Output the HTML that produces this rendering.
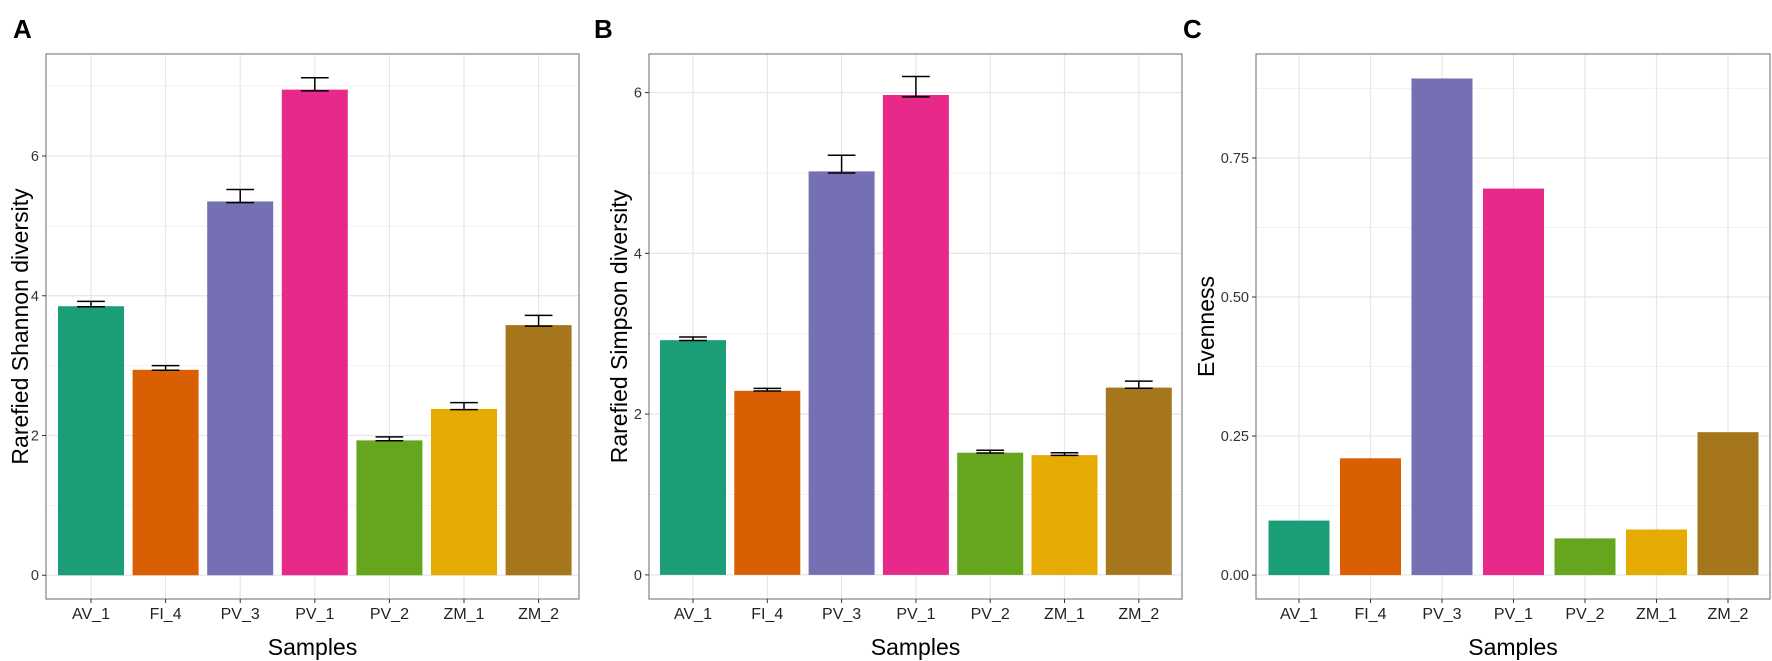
<!DOCTYPE html>
<html><head><meta charset="utf-8"><style>
html,body{margin:0;padding:0;background:#fff;}
svg{display:block;font-family:"Liberation Sans",Arial,sans-serif;}
</style></head><body>
<svg id="fig" width="1772" height="661" viewBox="0 0 1772 661"></svg>
<script>
const categories = ["AV_1","FI_4","PV_3","PV_1","PV_2","ZM_1","ZM_2"];
const colors = ["#1b9e77","#d95f02","#7570b3","#e7298a","#66a61e","#e6ab02","#a6761d"];
const shannonValues = [3.85,2.94,5.35,6.95,1.93,2.38,3.58];
const shannonErrTop = [3.92,3.00,5.52,7.12,1.98,2.47,3.72];
const simpsonValues = [2.92,2.29,5.02,5.97,1.52,1.49,2.33];
const simpsonErrTop = [2.96,2.32,5.22,6.20,1.55,1.52,2.41];
const evennessValues = [0.098,0.21,0.893,0.695,0.066,0.082,0.257];
const shannonTicks = [0,2,4,6];
const simpsonTicks = [0,2,4,6];
const evennessTicks = [0,0.25,0.5,0.75];
const evennessTickLabels = ["0.00","0.25","0.50","0.75"];

const NS="http://www.w3.org/2000/svg";
const svg=document.getElementById('fig');
function mk(tag,attrs,parent){const e=document.createElementNS(NS,tag);for(const k in attrs)e.setAttribute(k,attrs[k]);(parent||svg).appendChild(e);return e;}

const panels=[
 {key:"a",letter:"A",lx:13,left:46,right:579,ymin:-0.34,ymax:7.46,ticks:shannonTicks,tickLabels:shannonTicks.map(String),minor:[1,3,5,7],vals:shannonValues,err:shannonErrTop,title:"Rarefied Shannon diversity",titleX:22,c0:91,step:74.6,bw:66},
 {key:"b",letter:"B",lx:594,left:649,right:1182,ymin:-0.3,ymax:6.48,ticks:simpsonTicks,tickLabels:simpsonTicks.map(String),minor:[1,3,5],vals:simpsonValues,err:simpsonErrTop,title:"Rarefied Simpson diversity",titleX:621,c0:693,step:74.3,bw:66},
 {key:"c",letter:"C",lx:1183,left:1256,right:1770,ymin:-0.043,ymax:0.937,ticks:evennessTicks,tickLabels:evennessTickLabels,minor:[0.125,0.375,0.625,0.875],vals:evennessValues,err:null,title:"Evenness",titleX:1208,c0:1299,step:71.5,bw:61}
];
const TOP=54,BOT=599;

panels.forEach(p=>{
  const g=mk('g',{});
  
  
  const y=v=>BOT-(v-p.ymin)/(p.ymax-p.ymin)*(BOT-TOP);
  const x=i=>p.c0+i*p.step;
  const lt=mk('text',{x:p.lx,y:38,'font-size':26,'font-weight':'bold',fill:'#000'},g);
  lt.textContent=p.letter;
  
  
  mk('rect',{x:p.left,y:TOP,width:p.right-p.left,height:BOT-TOP,fill:'#fff'},g);
  p.minor.forEach(v=>{ if(v<p.ymax) mk('line',{x1:p.left,x2:p.right,y1:y(v),y2:y(v),stroke:'#f2f2f2','stroke-width':1},g);});
  p.ticks.forEach(v=>mk('line',{x1:p.left,x2:p.right,y1:y(v),y2:y(v),stroke:'#e6e6e6','stroke-width':1.2},g));
  categories.forEach((c,i)=>mk('line',{x1:x(i),x2:x(i),y1:TOP,y2:BOT,stroke:'#e6e6e6','stroke-width':1.2},g));
  p.vals.forEach((v,i)=>{
    const r=mk('rect',{x:x(i)-p.bw/2,y:y(v),width:p.bw,height:y(0)-y(v),fill:colors[i]},g);
    
    
    if(p.err){
      const t=p.err[i], lo=v-(t-v)*0.1, cw=p.bw*0.42;
      const eg=mk('g',{stroke:'#000','stroke-width':1.5,fill:'none'},g);
      
      
      mk('line',{x1:x(i),x2:x(i),y1:y(lo),y2:y(t)},eg);
      mk('line',{x1:x(i)-cw/2,x2:x(i)+cw/2,y1:y(t),y2:y(t)},eg);
      mk('line',{x1:x(i)-cw/2,x2:x(i)+cw/2,y1:y(lo),y2:y(lo)},eg);
    }
  });
  const border=mk('rect',{x:p.left,y:TOP,width:p.right-p.left,height:BOT-TOP,fill:'none',stroke:'#8c8c8c','stroke-width':1.3},g);
  
  
  p.ticks.forEach((v,i)=>{
    mk('line',{x1:p.left-4,x2:p.left,y1:y(v),y2:y(v),stroke:'#333','stroke-width':1},g);
    const t=mk('text',{x:p.left-7,y:y(v)+5,'font-size':14.5,'text-anchor':'end',fill:'#333'},g);
    t.textContent=p.tickLabels[i];
    
    
  });
  categories.forEach((c,i)=>{
    mk('line',{x1:x(i),x2:x(i),y1:BOT,y2:BOT+4,stroke:'#333','stroke-width':1},g);
    const t=mk('text',{x:x(i),y:619,'font-size':16,'text-anchor':'middle',fill:'#222'},g);
    t.textContent=c;
    
    
  });
  const xt=mk('text',{x:(p.left+p.right)/2,y:655,'font-size':23,'text-anchor':'middle',fill:'#000'},g);
  xt.textContent="Samples";
  
  
  const cy=(TOP+BOT)/2;
  const yt=mk('text',{x:p.titleX,y:cy,'font-size':23,'text-anchor':'middle',fill:'#000',transform:`rotate(-90 ${p.titleX} ${cy})`,'dominant-baseline':'middle'},g);
  yt.textContent=p.title;
  
  
});
</script>
</body></html>
